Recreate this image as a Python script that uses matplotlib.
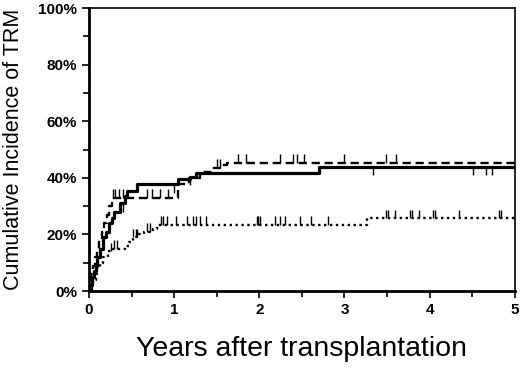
import numpy as np
import matplotlib
matplotlib.use("Agg")
import matplotlib.pyplot as plt
from matplotlib.ticker import MultipleLocator, FuncFormatter

# step curves (years, cumulative incidence %)
solid_t = [0, 0.02, 0.04, 0.06, 0.08, 0.10, 0.13, 0.17, 0.20, 0.23, 0.27, 0.30,
           0.37, 0.42, 0.45, 0.56, 1.04, 1.19, 1.26, 2.70, 5.0]
solid_y = [0, 2, 5, 7, 9, 12, 15, 19, 21, 24, 26, 28, 31, 33.5, 35.5, 37.8,
           39.6, 40.4, 41.8, 44, 44]
solid_cens = [0.40, 1.00, 1.19, 3.33, 4.51, 4.66, 4.73]

dash_t = [0, 0.01, 0.03, 0.05, 0.07, 0.09, 0.12, 0.15, 0.18, 0.21, 0.24, 0.27,
          1.05, 1.18, 1.30, 1.45, 1.55, 1.62, 5.0]
dash_y = [0, 3, 6, 9, 12, 15, 18, 21, 24, 27, 30, 33, 38, 40, 42, 43.5, 44.5,
          45.4, 45.4]
dash_cens = [0.28, 0.31, 0.35, 0.40, 0.68, 0.74, 0.83, 0.93, 1.50, 1.54, 1.75,
             1.85, 2.24, 2.40, 2.44, 2.52, 3.00, 3.49, 3.60]

dot_t = [0, 0.03, 0.05, 0.08, 0.10, 0.13, 0.17, 0.22, 0.28, 0.42, 0.47, 0.52,
         0.58, 0.65, 0.75, 0.80, 3.26, 5.0]
dot_y = [0, 2, 4, 6, 8, 10, 12, 14, 15, 16, 17.5, 19, 20, 21, 22, 23.5, 25.7,
         25.7]
dot_cens = [0.26, 0.30, 0.33, 0.52, 0.55, 0.57, 0.68, 0.72, 0.85, 0.87, 0.92,
            1.02, 1.15, 1.22, 1.26, 1.30, 1.38, 1.97, 1.99, 2.01, 2.18, 2.24,
            2.30, 2.48, 2.61, 2.81, 3.49, 3.51, 3.59, 3.77, 3.79, 3.87, 4.04,
            4.06, 4.34, 4.82, 4.84]

plt.rcParams['font.family'] = ['Liberation Sans', 'DejaVu Sans']


def level_at(ts, ys, t):
    i = np.searchsorted(ts, t, side='right') - 1
    return ys[max(i, 0)]


def draw(ax, ts, ys, cens, up, **kw):
    ax.step(ts, ys, where='post', color='black', **kw)
    lv = [level_at(ts, ys, c) for c in cens]
    top = [v + (3 if up else -3) for v in lv]
    ax.vlines(cens, lv, top, color='black', lw=1.0)


fig = plt.figure(figsize=(5.2, 3.68), dpi=100)
ax = fig.add_axes([0.171, 0.209, 0.819, 0.769])

draw(ax, solid_t, solid_y, solid_cens, False, lw=2.3, solid_capstyle='butt')
draw(ax, dash_t, dash_y, dash_cens, True, lw=1.7, dashes=(3.5, 2))
draw(ax, dot_t, dot_y, dot_cens, True, lw=1.7, dashes=(1, 1.5))

ax.set_xlim(0, 5)
ax.set_ylim(0, 100)
ax.xaxis.set_major_locator(MultipleLocator(1))
ax.xaxis.set_minor_locator(MultipleLocator(0.5))
ax.yaxis.set_major_locator(MultipleLocator(20))
ax.yaxis.set_minor_locator(MultipleLocator(10))
ax.yaxis.set_major_formatter(FuncFormatter(lambda v, p: f"{int(v)}%"))
ax.tick_params(which='both', direction='out', width=1.2, labelsize=11)
ax.tick_params(which='major', length=5)
ax.tick_params(which='minor', length=4)
for lab in ax.get_xticklabels() + ax.get_yticklabels():
    lab.set_fontweight('bold')

ax.spines['left'].set_linewidth(2.0)
ax.spines['bottom'].set_linewidth(2.0)
ax.spines['top'].set_linewidth(1.2)
ax.spines['right'].set_linewidth(1.2)

ax.set_xlabel("Years after transplantation", fontsize=20.5, labelpad=14)
ax.set_ylabel("Cumulative Incidence of TRM", fontsize=15.5, labelpad=10)

fig.savefig("out.png", dpi=100)
